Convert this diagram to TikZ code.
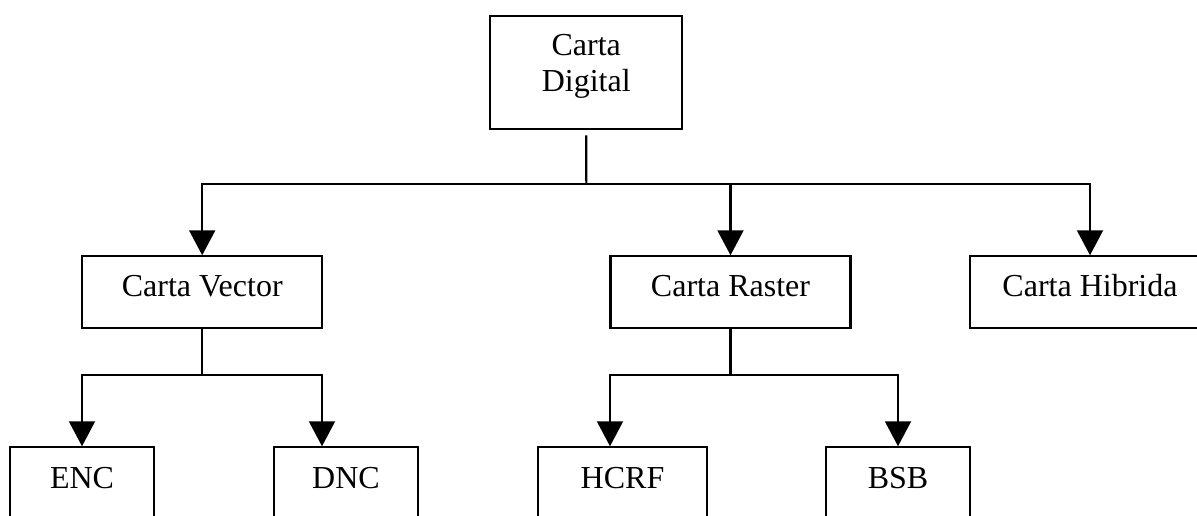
\documentclass[tikz,border=0pt]{standalone}
\usepackage{fontspec}
\setmainfont{Liberation Serif}
\usetikzlibrary{arrows.meta}

\tikzset{
  every picture/.style={x=1pt, y=-1pt},
  chartbox/.style={draw=black, line width=2.1pt, rectangle, inner sep=0pt,
    font=\fontsize{32}{36.7}\selectfont},
  rowbox/.style={chartbox, minimum width=240pt, text height=39.7pt, text depth=31.7pt},
  leafbox/.style={chartbox, text height=41pt, text depth=80pt},
  link/.style={draw=black, line width=2.1pt},
  arrowlink/.style={link, -{Triangle[length=25pt, width=26pt]}},
}

\begin{document}
\begin{tikzpicture}
  \clip (0,0) rectangle (1197,515);

  % root
  \node[chartbox, minimum width=192pt, minimum height=113.6pt] (dig) at (586.2,72.5) {};
  \node[font=\fontsize{32}{36.7}\selectfont, align=center, inner sep=0pt] (digtxt) at (586.2,66.3) {Carta\\Digital};

  % second row
  \node[rowbox] (vec) at (202.2,292) {Carta Vector};
  \node[rowbox] (ras) at (730.5,292) {Carta Raster};
  \node[rowbox] (hib) at (1090,292) {Carta Hibrida};

  % leaves (cut by the lower edge)
  \node[leafbox, minimum width=144pt, anchor=base] (enc) at (82,488.3) {ENC};
  \node[leafbox, minimum width=144pt, anchor=base] (dnc) at (346,488.3) {DNC};
  \node[leafbox, minimum width=168.4pt, anchor=base] (hcrf) at (622.5,488.3) {HCRF};
  \node[leafbox, minimum width=144pt, anchor=base] (bsb) at (898,488.3) {BSB};

  % junctions
  \coordinate (j0) at (586.3,184);
  \coordinate (j1) at (202.2,375);
  \coordinate (j2) at (730.5,375);

  % root to second row
  \draw[link] ([yshift=-5pt]dig.south) -- (j0);
  \draw[arrowlink] (j0) -| (vec.north);
  \draw[arrowlink] (j0) -| (ras.north);
  \draw[arrowlink] (j0) -| (hib.north);

  % vector branch
  \draw[link] (vec.south) -- (j1);
  \draw[arrowlink] (j1) -| (enc.north);
  \draw[arrowlink] (j1) -| ([xshift=-24pt]dnc.north);

  % raster branch
  \draw[link] (ras.south) -- (j2);
  \draw[arrowlink] (j2) -| ([xshift=-12.5pt]hcrf.north);
  \draw[arrowlink] (j2) -| (bsb.north);
\end{tikzpicture}
\end{document}
